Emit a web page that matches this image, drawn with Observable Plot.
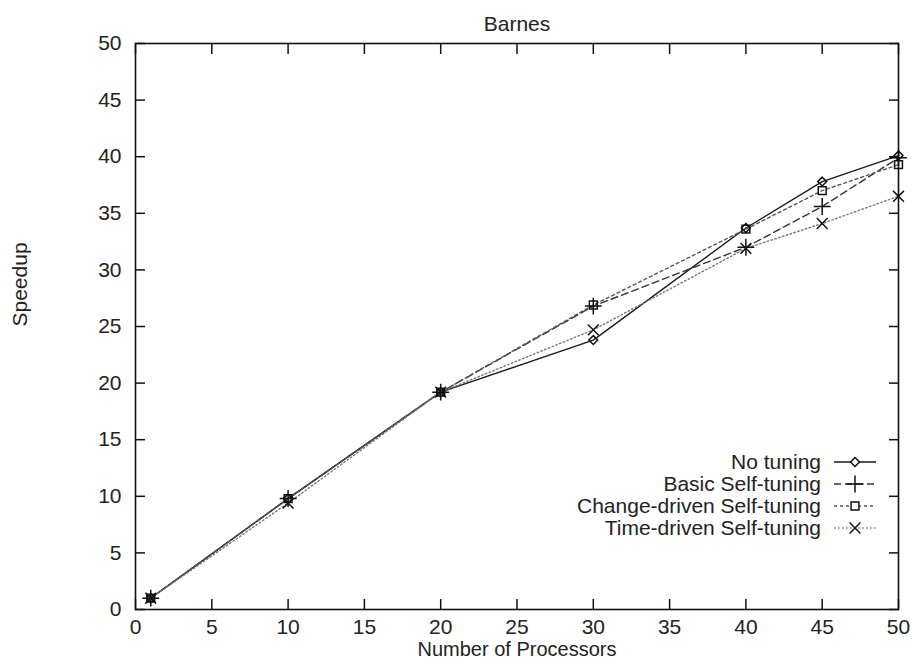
<!DOCTYPE html>
<html>
<head>
<meta charset="utf-8">
<script src="https://cdn.jsdelivr.net/npm/d3@7"></script>
<script src="https://cdn.jsdelivr.net/npm/@observablehq/plot@0.6"></script>
<style>
  html, body { margin: 0; padding: 0; background: #fff; }
  #wrap { position: relative; width: 912px; height: 665px; font-family: "Liberation Sans", Arial, sans-serif; }
  #legend { position: absolute; right: 35px; top: 451px; font-size: 21px; color: #222; }
  .row { display: flex; align-items: center; height: 22px; justify-content: flex-end; }
  .row span { margin-right: 12px; white-space: nowrap; }
</style>
</head>
<body>
<div id="wrap"></div>
<script>
const processors = [1, 10, 20, 30, 40, 45, 50];
const seriesNames = ["No tuning", "Basic Self-tuning", "Change-driven Self-tuning", "Time-driven Self-tuning"];
const noTuning     = [1.0, 9.8, 19.2, 23.8, 33.7, 37.8, 40.1];
const basicSelf    = [1.0, 9.8, 19.2, 26.8, 32.0, 35.6, 39.9];
const changeDriven = [1.0, 9.8, 19.2, 26.9, 33.6, 37.0, 39.3];
const timeDriven   = [1.0, 9.4, 19.2, 24.7, 31.9, 34.1, 36.5];
const xTicks = [0, 5, 10, 15, 20, 25, 30, 35, 40, 45, 50];
const yTicks = [0, 5, 10, 15, 20, 25, 30, 35, 40, 45, 50];

const seriesValues = [noTuning, basicSelf, changeDriven, timeDriven];
const styles = [
  {stroke: "#1a1a1a", dash: null, symbol: "diamond2", r: 4},
  {stroke: "#333", dash: "7,4", symbol: "plus", r: 5.5},
  {stroke: "#555", dash: "3,3", symbol: "square2", r: 5},
  {stroke: "#777", dash: "1.5,2.5", symbol: "times", r: 5}
];

const data = [];
seriesNames.forEach((s, i) => processors.forEach((p, j) => data.push({series: s, p, v: seriesValues[i][j]})));

const font = "Liberation Sans, Arial, sans-serif";
const marks = [];
seriesNames.forEach((s, i) => {
  const st = styles[i];
  marks.push(Plot.line(data.filter(d => d.series === s), {
    x: "p", y: "v", stroke: st.stroke, strokeWidth: 1.4,
    strokeDasharray: st.dash ?? undefined
  }));
});
seriesNames.forEach((s, i) => {
  const st = styles[i];
  marks.push(Plot.dot(data.filter(d => d.series === s), {
    x: "p", y: "v", symbol: () => st.symbol, r: st.r, stroke: "#111", strokeWidth: 1.5, fill: "none"
  }));
});

const chart = Plot.plot({
  width: 912,
  height: 665,
  marginLeft: 135,
  marginRight: 14,
  marginTop: 43,
  marginBottom: 56,
  style: {fontFamily: font, fontSize: "21px", color: "#222", background: "#fff"},
  x: {domain: [0, 50], ticks: xTicks},
  y: {domain: [0, 50], ticks: yTicks},
  symbol: {type: "identity"},
  marks: [
    Plot.axisX({anchor: "bottom", ticks: xTicks, tickSize: -10, tickPadding: 20, label: null, stroke: "#111", strokeWidth: 1.5}),
    Plot.axisX({anchor: "top", ticks: xTicks, tickSize: -10, tickFormat: () => "", label: null, stroke: "#111", strokeWidth: 1.5}),
    Plot.axisY({anchor: "left", ticks: yTicks, tickSize: -10, tickPadding: 24, label: null, stroke: "#111", strokeWidth: 1.5}),
    Plot.axisY({anchor: "right", ticks: yTicks, tickSize: -10, tickFormat: () => "", label: null, stroke: "#111", strokeWidth: 1.5}),
    Plot.frame({stroke: "#111", strokeWidth: 1.6}),
    ...marks,
    Plot.text(["Barnes"], {frameAnchor: "top", dy: -27, fontSize: 21, fill: "#222"}),
    Plot.text(["Number of Processors"], {frameAnchor: "bottom", dy: 46, fontSize: 20, fill: "#222"}),
    Plot.text(["Speedup"], {frameAnchor: "left", dx: -115, rotate: -90, fontSize: 21, fill: "#222"})
  ]
});
const wrap = document.getElementById("wrap");
wrap.appendChild(chart);

// Legend (inside plot, bottom-right)
const legend = document.createElement("div");
legend.id = "legend";
seriesNames.forEach((s, i) => {
  const st = styles[i];
  const row = document.createElement("div");
  row.className = "row";
  const span = document.createElement("span");
  span.textContent = s;
  row.appendChild(span);
  const svg = d3.create("svg").attr("width", 44).attr("height", 22);
  svg.append("line").attr("x1", 1).attr("x2", 43).attr("y1", 11).attr("y2", 11)
    .attr("stroke", st.stroke).attr("stroke-width", 1.4)
    .attr("stroke-dasharray", st.dash);
  const symMap = {diamond2: d3.symbolDiamond2, plus: d3.symbolPlus, square2: d3.symbolSquare2, times: d3.symbolTimes};
  svg.append("path").attr("transform", "translate(22,11)")
    .attr("d", d3.symbol(symMap[st.symbol], Math.PI * st.r * st.r)())
    .attr("fill", "#fff").attr("stroke", "#111").attr("stroke-width", 1.5);
  row.appendChild(svg.node());
  legend.appendChild(row);
});
wrap.appendChild(legend);
</script>
</body>
</html>
